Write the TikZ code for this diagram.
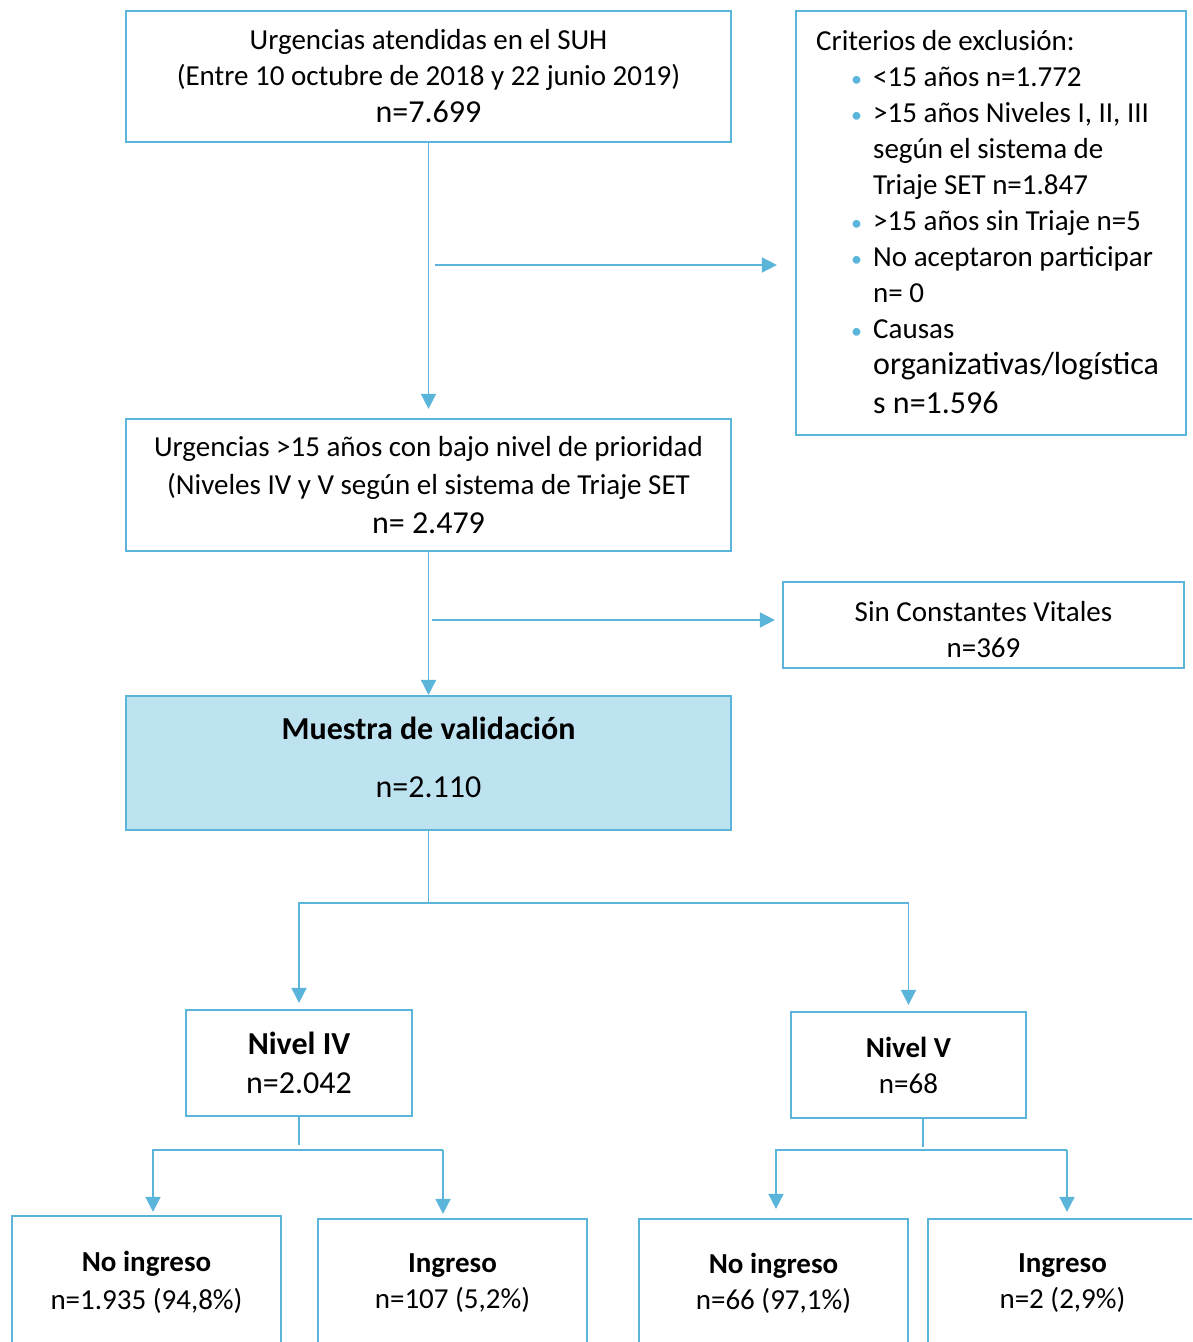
\documentclass[tikz,border=0pt]{standalone}
\usepackage{fontspec}
\setmainfont{Carlito}
\usepackage{tikz}
\usetikzlibrary{arrows.meta}

\definecolor{azul}{RGB}{91,180,218}
\definecolor{celeste}{RGB}{190,227,240}
\newcommand{\txt}{\fontsize{29}{36}\selectfont}
\newcommand{\txg}{\fontsize{32}{38}\selectfont}
\newcommand{\vin}{\makebox[57pt][l]{\hspace{35pt}\textcolor{azul}{\fontsize{22}{22}\selectfont •}}}
\newcommand{\sig}{\hspace*{57pt}}

\begin{document}
\begin{tikzpicture}[x=1pt,y=-1pt,
    caja/.style={draw=azul, line width=2.2pt, rectangle, align=center, inner sep=0pt, font=\txt},
    texto/.style={align=center, inner sep=0pt, font=\txt},
    flecha/.style={draw=azul, line width=1.6pt, -{Triangle[length=15pt,width=15pt]}},
    linea/.style={draw=azul, line width=1.6pt}]
  \useasboundingbox (0,0) rectangle (1192,1342);
  \clip (0,0) rectangle (1192,1342);
  % cajas
  \node[caja, minimum width=605pt, minimum height=131pt] (urg) at (428.5,76.5)
    {Urgencias atendidas en el SUH\\(Entre 10 octubre de 2018 y 22 junio 2019)\\[1pt]{\txg n=7.699}};
  \node[caja, minimum width=390pt, minimum height=424pt] (excl) at (991,223) {};
  \node[anchor=north west, align=left, inner sep=0pt, font=\txt] (crit) at (816,30)
    {Criterios de exclusión:\\
     \vin<15 años n=1.772\\
     \vin>15 años Niveles I, II, III\\
     \sig según el sistema de\\
     \sig Triaje SET n=1.847\\
     \vin>15 años sin Triaje n=5\\
     \vin No aceptaron participar\\
     \sig n= 0\\
     \vin Causas\\
     \sig{\txg organizativas/logística}\\[3pt]
     \sig{\txg s n=1.596}};
  \node[caja, minimum width=605pt, minimum height=132pt] (prio) at (428.5,485)
    {Urgencias >15 años con bajo nivel de prioridad\\[2pt](Niveles IV y V según el sistema de Triaje SET\\[3pt]{\txg n= 2.479}};
  \node[caja, minimum width=401pt, minimum height=86pt] (sin) at (983.5,625) {};
  \node[texto] (sintxt) at (983.5,630) {Sin Constantes Vitales\\n=369};
  \node[caja, fill=celeste, minimum width=605pt, minimum height=134pt] (muestra) at (428.5,763) {};
  \node[texto, font=\txg] (muestratxt) at (428.5,757)
    {\textbf{Muestra de validación}\\[20pt]n=2.110};
  \node[caja, font=\txg, minimum width=226pt, minimum height=106pt] (niv4) at (299,1063)
    {\textbf{Nivel IV}\\[1pt]n=2.042};
  \node[caja, minimum width=235pt, minimum height=106pt] (niv5) at (908.5,1065)
    {\textbf{Nivel V}\\n=68};
  \node[caja, minimum width=269pt, minimum height=132pt] (noing4) at (146.5,1282)
    {\textbf{No ingreso}\\[2pt]n=1.935 (94,8\%)};
  \node[caja, minimum width=269pt, minimum height=129pt] (ing4) at (452.5,1283.5)
    {\textbf{Ingreso}\\n=107 (5,2\%)};
  \node[caja, minimum width=269pt, minimum height=129pt] (noing5) at (773.5,1283.5)
    {\textbf{No ingreso}\\n=66 (97,1\%)};
  \node[caja, minimum width=269pt, minimum height=129pt] (ing5) at (1062.5,1283.5)
    {\textbf{Ingreso}\\n=2 (2,9\%)};
  % flechas
  \draw[flecha, shorten >=9pt] (urg) -- (prio);
  \coordinate (s1) at (435,265);
  \draw[flecha, shorten >=18pt] (s1) -- (s1 -| excl.west);
  \draw[flecha] (prio) -- (muestra);
  \coordinate (s2) at (432,620);
  \draw[flecha, shorten >=7pt] (s2) -- (s2 -| sin.west);
  \draw[linea] (muestra.south) -- ++(0,72) coordinate (rama);
  \draw[flecha, shorten >=6pt] (rama) -| (niv4.north);
  \draw[flecha, shorten >=6pt] (rama) -| (niv5.north);
  % nivel IV
  \draw[linea] (niv4.south) -- ++(0,28);
  \coordinate (r4a) at (153,1150);
  \coordinate (r4b) at (443,1150);
  \draw[flecha, shorten >=3pt] (r4b) -- (r4a) -- (r4a |- noing4.north);
  \draw[flecha, shorten >=4pt] (r4b) -- (r4b |- ing4.north);
  % nivel V
  \draw[linea] ([xshift=14.5pt]niv5.south) -- ++(0,28);
  \coordinate (r5a) at (776,1150);
  \coordinate (r5b) at (1067,1150);
  \draw[flecha, shorten >=9pt] (r5b) -- (r5a) -- (r5a |- noing5.north);
  \draw[flecha, shorten >=6pt] (r5b) -- (r5b |- ing5.north);
\end{tikzpicture}
\end{document}
